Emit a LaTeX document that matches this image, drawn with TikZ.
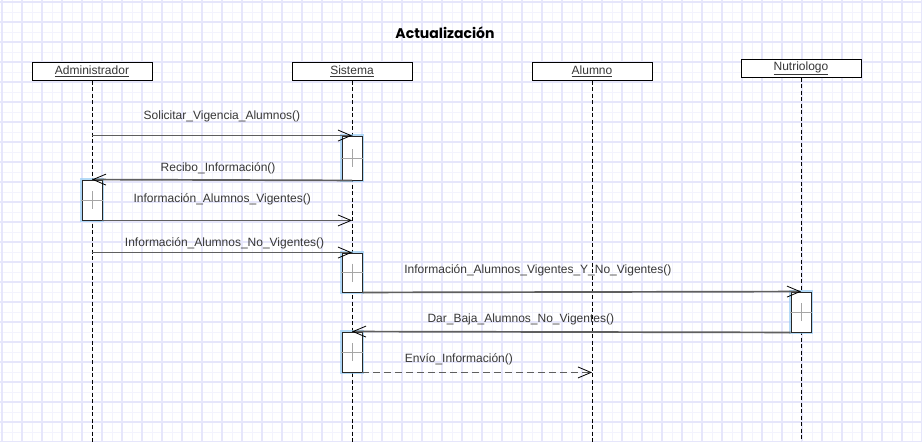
\documentclass[tikz,border=0pt]{standalone}
\usepackage{fontspec}
\setmainfont{Liberation Sans}
\newfontfamily\titlefont{Poppins}
\usetikzlibrary{arrows.meta,positioning,calc}

\definecolor{gridminor}{RGB}{243,243,253}
\definecolor{gridmajor}{RGB}{230,230,251}
\definecolor{msggray}{RGB}{95,95,95}
\definecolor{txtgray}{RGB}{55,55,55}
\definecolor{glow}{RGB}{150,205,245}

\tikzset{
  lifebox/.style={draw, fill=white, line width=1pt, minimum width=120pt, minimum height=18pt,
    inner sep=0pt, font=\fontsize{12}{12}\selectfont, text=txtgray},
  lifeline/.style={line width=0.9pt, dash pattern=on 4pt off 2.5pt},
  actbox/.style={draw=black!85, fill=white, line width=0.9pt, minimum width=20pt,
    minimum height=#1, inner sep=0pt, preaction={draw=glow, line width=4pt, opacity=0.7}},
  msg/.style={draw=msggray, line width=1.7pt,
    -{Straight Barb[length=13pt,width=11pt,line width=0.8pt,color=black]}},
  retmsg/.style={msg, dash pattern=on 7pt off 4pt},
  lbl/.style={inner sep=0pt, font=\fontsize{12}{12}\selectfont, text=txtgray},
}

\begin{document}
\begin{tikzpicture}[x=1pt, y=-1pt]
  \useasboundingbox (0,0) rectangle (922,442);
  \fill[white] (0,0) rectangle (922,442);

  % Background grid
  \foreach \x in {2,12,...,922} {
    \draw[gridminor, line width=1pt] (\x,0) -- (\x,442);
  }
  \foreach \y in {2,12,...,442} {
    \draw[gridminor, line width=1pt] (0,\y) -- (922,\y);
  }
  \foreach \x in {2,22,...,922} {
    \draw[gridmajor, line width=1.3pt] (\x,0) -- (\x,442);
  }
  \foreach \y in {2,22,...,442} {
    \draw[gridmajor, line width=1.3pt] (0,\y) -- (922,\y);
  }

  \node[font=\titlefont\bfseries\fontsize{14}{14}\selectfont] (title) at (445,33) {Actualización};

  % Objects and lifelines
  \node[lifebox] (admin) at (92,71) {\underline{Administrador}};
  \node[lifebox] (sist) at (352,71) {\underline{Sistema}};
  \node[lifebox] (alum) at (592,71) {\underline{Alumno}};
  \node[lifebox] (nutri) at (801,68) {\underline{Nutriologo}};
  \coordinate (bottom) at (0,442);
  \foreach \n in {admin,sist,alum,nutri} {
    \draw[lifeline] (\n.south) -- (\n.south |- bottom);
  }

  % Activation boxes
  \node[actbox=44pt] (actS1) at (352,158) {};
  \node[actbox=40pt] (actA) at (92,200) {};
  \node[actbox=39pt] (actS2) at (352,272.5) {};
  \node[actbox=40pt] (actN) at (801,312) {};
  \node[actbox=40pt] (actS3) at (352,352) {};
  \foreach \a in {actS1,actA,actS2,actN,actS3} {
    \draw[black!35, line width=0.6pt] ($(\a.center)+(-11,0)$) -- ($(\a.center)+(11,0)$);
    \draw[black!35, line width=0.6pt] ($(\a.center)+(0,-9)$) -- ($(\a.center)+(0,9)$);
  }

  % Messages
  \draw[msg] (admin |- actS1.north) -- (actS1.north)
    node[lbl, pos=0.5, above=12.5pt] {Solicitar\_Vigencia\_Alumnos()};
  \draw[msg] (actS1.south) -- (actA.north)
    node[lbl, pos=0.515, above=5pt] {Recibo\_Información()};
  \draw[msg] (actA.south east) -- (sist |- actA.south)
    node[lbl, pos=0.48, above=15pt] {Información\_Alumnos\_Vigentes()};
  \draw[msg] (admin |- actS2.north) -- (actS2.north)
    node[lbl, pos=0.51, above=2.5pt] {Información\_Alumnos\_No\_Vigentes()};
  \draw[msg] (actS2.south east) -- (actN.north)
    node[lbl, pos=0.40, above=15pt] {Información\_Alumnos\_Vigentes\_Y\_No\_Vigentes()};
  \draw[msg] (actN.south west) -- (actS3.north)
    node[lbl, pos=0.615, above=6pt] {Dar\_Baja\_Alumnos\_No\_Vigentes()};
  \draw[retmsg] (actS3.south east) -- (alum |- actS3.south)
    node[lbl, pos=0.42, above=7pt] {Envío\_Información()};
\end{tikzpicture}
\end{document}
